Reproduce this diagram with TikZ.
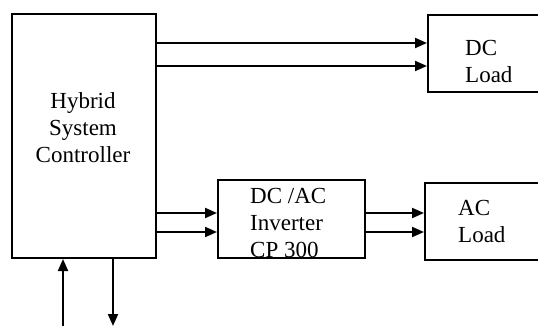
\documentclass[tikz,border=0pt]{standalone}
\usepackage{fontspec}
\setmainfont{Liberation Serif}
\usetikzlibrary{arrows.meta}
\begin{document}
\begin{tikzpicture}[x=1pt,y=1pt,
  box/.style={draw, line width=2pt, inner sep=0pt, anchor=north west},
  arr/.style={line width=2pt, -{Triangle[length=12pt,width=10pt]}},
  lbl/.style={font=\fontsize{23}{27}\selectfont, inner sep=0pt}]
\useasboundingbox (0,0) rectangle (538,-326);
% boxes
\node[box, minimum width=144, minimum height=244] (ctrl) at (11,-13) {};
\node[box, minimum width=113, minimum height=77] (dcload) at (427,-14) {};
\node[box, minimum width=147, minimum height=78] (inv) at (217,-179) {};
\node[box, minimum width=116, minimum height=77] (acload) at (424,-182) {};
% texts
\node[lbl, align=center, anchor=base] (t1) at (83,-162) {Hybrid\\System\\Controller};
\node[lbl, align=left, anchor=base west] (t2) at (465,-83) {DC\\Load};
\node[lbl, align=left, anchor=base west] (t3) at (250,-257) {DC /AC\\Inverter\\CP 300};
\node[lbl, align=left, anchor=base west] (t4) at (458,-242) {AC\\Load};
% arrows to DC load
\draw[arr] (ctrl.east |- 0,-43) -- (dcload.west |- 0,-43);
\draw[arr] (ctrl.east |- 0,-66) -- (dcload.west |- 0,-66);
% arrows to inverter
\draw[arr] (ctrl.east |- 0,-213) -- (inv.west |- 0,-213);
\draw[arr] (ctrl.east |- 0,-232) -- (inv.west |- 0,-232);
% arrows to AC load
\draw[arr] (inv.east |- 0,-213) -- (acload.west |- 0,-213);
\draw[arr] (inv.east |- 0,-232) -- (acload.west |- 0,-232);
% bottom arrows
\coordinate (in1) at (63,-326);
\coordinate (out1) at (113,-326);
\draw[arr] (in1) -- (in1 |- ctrl.south);
\draw[arr] (out1 |- ctrl.south) -- (out1);
\end{tikzpicture}
\end{document}
